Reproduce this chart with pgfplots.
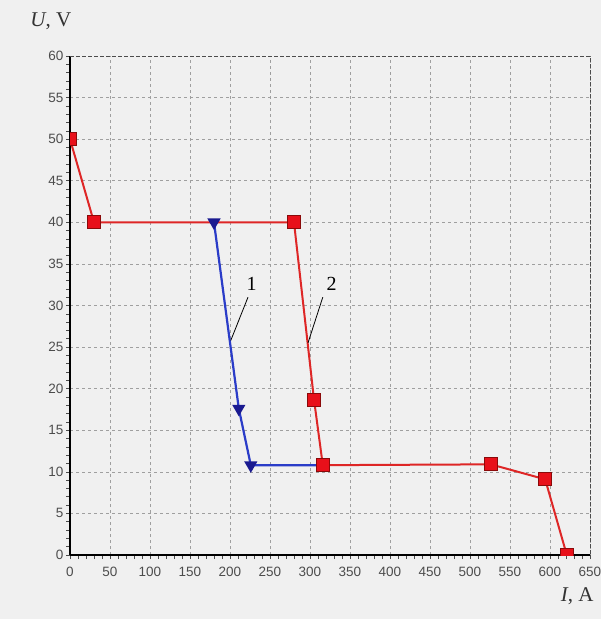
\documentclass[border=0pt]{standalone}
\usepackage{pgfplots}
\pgfplotsset{compat=1.18}
\usepackage{fontspec}
\setmainfont{Liberation Serif}
\setsansfont{Liberation Sans}
\definecolor{bg}{HTML}{F0F0F0}
\definecolor{rline}{HTML}{DE2626}
\definecolor{rfill}{HTML}{E8101A}
\definecolor{rdraw}{HTML}{8A0A0A}
\definecolor{bline}{HTML}{2A3CC8}
\definecolor{bmark}{HTML}{1A1A90}
\begin{document}
\begin{tikzpicture}[x=1pt,y=1pt]
\fill[bg] (0,0) rectangle (601,619);
\begin{axis}[
  at={(70pt,64pt)}, anchor=south west,
  scale only axis, width=520pt, height=499pt,
  xmin=0, xmax=650, ymin=0, ymax=60,
  xtick={0,50,...,650}, ytick={0,5,...,60},
  minor x tick num=4, minor y tick num=4,
  axis lines=left,
  axis line style={-, line width=1.8pt, black},
  tick align=outside,
  major tick length=4pt, minor tick length=4pt,
  tick style={black!70, line width=0.6pt},
  grid=major,
  major grid style={gray!75, line width=0.6pt, dash pattern=on 3pt off 3pt},
  ticklabel style={font=\sffamily\fontsize{13.5}{13.5}\selectfont, text=black!70},
  xticklabel style={yshift=-5pt},
  yticklabel style={xshift=1pt},
  /pgf/number format/assume math mode=true,
  /pgf/number format/1000 sep={},
  clip mode=individual,
  clip marker paths=true,
]
\draw[black!70, line width=0.8pt, dash pattern=on 4pt off 2pt] (axis cs:0,60) -- (axis cs:650,60) -- (axis cs:650,0);
\addplot[rline, line width=2pt, mark=none] coordinates {
 (0,50) (30,40) (280,40) (305,18.7) (316,10.8) (526,10.9) (594,9.1) (621,0)};
\addplot[bline, line width=2.2pt, mark=triangle*, mark indices={1,2,3},
  mark options={rotate=180, fill=bmark, draw=bmark, solid}, mark size=5.5pt] coordinates {
 (180,40) (211,17.6) (226,10.8) (316,10.8)};
\addplot[only marks, mark=square*, mark size=6.5pt, mark options={fill=rfill, draw=rdraw, line width=0.8pt}] coordinates {
 (0,50) (30,40) (280,40) (305,18.7) (316,10.8) (526,10.9) (594,9.1) (621,0)};
\draw[black, line width=0.8pt] (axis cs:222.5,31) -- (axis cs:201,25.8);
\draw[black, line width=0.8pt] (axis cs:316,31) -- (axis cs:297.5,25.5);
\node[font=\fontsize{20}{20}\selectfont] at (axis cs:227,32.6) {1};
\node[font=\fontsize{20}{20}\selectfont] at (axis cs:327,32.6) {2};
\node[font=\fontsize{21}{21}\selectfont, text=black!80] at (axis cs:-24,64.2) {\textit{U}, V};
\node[font=\fontsize{21}{21}\selectfont, text=black!80] at (axis cs:634,-4.9) {\textit{I}, A};
\end{axis}
\end{tikzpicture}
\end{document}
